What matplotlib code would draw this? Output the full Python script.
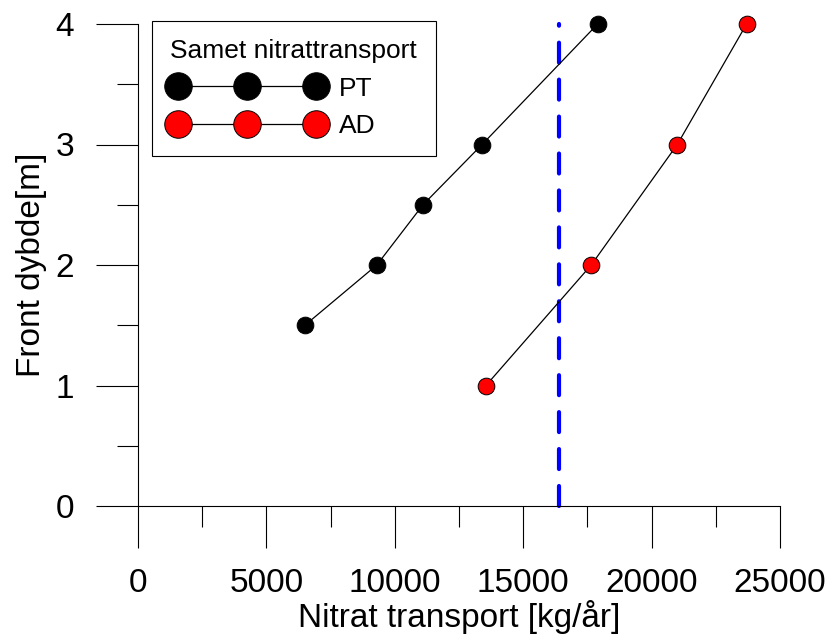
import matplotlib
matplotlib.use("Agg")
import matplotlib.pyplot as plt
from matplotlib.ticker import MultipleLocator

plt.rcParams['font.family'] = ['Liberation Sans', 'DejaVu Sans']

# Data
pt_x = [6500, 9300, 11100, 13400, 17900]
pt_y = [1.5, 2.0, 2.5, 3.0, 4.0]
ad_x = [13550, 17650, 21000, 23700]
ad_y = [1.0, 2.0, 3.0, 4.0]
limit_x = 16400
legend_title = "Samet nitrattransport"
series_names = ["PT", "AD"]
x_label = "Nitrat transport [kg/år]"
y_label = "Front dybde[m]"

fig = plt.figure(figsize=(8.32, 6.4), dpi=100)
ax = fig.add_axes([138/832, 1-506/640, 642/832, 482/640])

ax.plot(pt_x, pt_y, color='black', lw=0.9, marker='o', ms=12,
        mfc='black', mec='black', mew=0.7, label=series_names[0], zorder=3,
        clip_on=False)
ax.plot(ad_x, ad_y, color='black', lw=0.9, marker='o', ms=12,
        mfc='#ff0000', mec='black', mew=0.7, label=series_names[1], zorder=3,
        clip_on=False)

dl, = ax.plot([limit_x, limit_x], [0, 4], color='#0000ff', lw=3,
              solid_capstyle='round', dash_capstyle='round', zorder=2,
              clip_on=False)
dl.set_dashes([14.4 / 3, 12.2 / 3])

ax.set_xlim(0, 25000)
ax.set_ylim(0, 4)
ax.xaxis.set_major_locator(MultipleLocator(5000))
ax.xaxis.set_minor_locator(MultipleLocator(2500))
ax.yaxis.set_major_locator(MultipleLocator(1))
ax.yaxis.set_minor_locator(MultipleLocator(0.5))

for s in ['top', 'right']:
    ax.spines[s].set_visible(False)
for s in ['left', 'bottom']:
    ax.spines[s].set_linewidth(0.8)

ax.tick_params(which='major', direction='out', length=30, width=0.8,
               labelsize=24)
ax.tick_params(axis='x', which='major', pad=15)
ax.tick_params(axis='y', which='major', pad=16)
ax.tick_params(which='minor', direction='out', length=15, width=0.8)

ax.set_xlabel(x_label, fontsize=24, labelpad=0)
ax.set_ylabel(y_label, fontsize=24, labelpad=6)

leg = ax.legend(loc='upper left', bbox_to_anchor=(152/832, 1-21/640),
                bbox_transform=fig.transFigure, borderaxespad=0,
                title=legend_title, title_fontsize=19, fontsize=19,
                numpoints=3, markerscale=1.65, handlelength=5.8,
                handletextpad=0.6, borderpad=0.7, labelspacing=0.5,
                alignment='left',
                fancybox=False, framealpha=1, edgecolor='black')
leg.get_frame().set_linewidth(0.8)

fig.savefig("out.png", dpi=100)
